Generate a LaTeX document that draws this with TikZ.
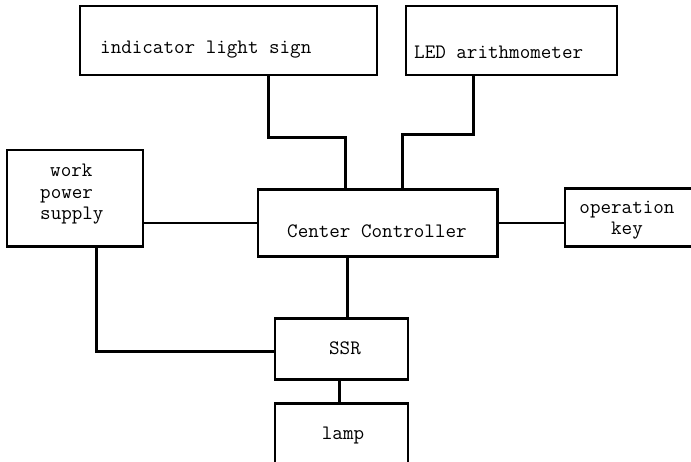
\documentclass[tikz,border=0pt]{standalone}
\usepackage{tikz}
\usetikzlibrary{calc}
\usetikzlibrary{positioning}

\tikzset{
    box/.style={draw=black, line width=1.4pt, rectangle, inner sep=0pt},
    lbl/.style={inner sep=0pt, text=black, font=\ttfamily\fontsize{20.5}{21.5}\selectfont},
    wire/.style={draw=black, line width=3pt},
    thinwire/.style={draw=black, line width=1.2pt}
}

\begin{document}
\begin{tikzpicture}[x=1pt, y=1pt]
    \clip (0,0) rectangle (691,462);
    \fill[white] (0,0) rectangle (691,462);

    % Boxes
    \node[box, minimum width=297, minimum height=69] (ind) at (228.5,421.5) {};
    \node[box, minimum width=211, minimum height=69] (led) at (511.5,421.5) {};
    \node[box, minimum width=136, minimum height=96] (pwr) at (75,264) {};
    \node[box, minimum width=239, minimum height=66] (ctrl) at (377.5,239) {};
    \node[box, minimum width=160, minimum height=57] (key) at (645,244.5) {};
    \node[box, minimum width=133, minimum height=60] (ssr) at (341.5,113) {};
    \node[box, minimum width=133, minimum height=86] (lamp) at (341.5,15) {};

    % Heavy edges
    \draw[wire] (ctrl.north west) -- (ctrl.north east) -- (ctrl.south east) -- (ctrl.south west);
    \draw[wire] (ssr.north west) -- (ssr.north east);
    \draw[wire] (ssr.south west) -- (ssr.south east);
    \draw[wire] (key.north west) -- (key.north east);
    \draw[wire] (key.south west) -- (key.south east);
    \draw[wire] (lamp.north west) -- (lamp.north east);
    \draw[line width=2pt] (pwr.south west) -- (pwr.south east);

    % Texts
    \node[lbl, anchor=base west] (indtxt) at (100,408) {indicator light sign};
    \node[lbl, anchor=base west] (ledtxt) at (414,403) {LED arithmometer};
    \node[lbl, anchor=base west] (ctrltxt) at (287,224) {Center Controller};
    \node[lbl, anchor=base west, align=left] (pwrtxt) at (40,242)
        {\hspace*{10pt}work\\power\\supply};
    \node[lbl, anchor=base, align=center] (keytxt) at (627,227) {operation\\key};
    \node[lbl, anchor=base] (ssrtxt) at (345,107) {SSR};
    \node[lbl, anchor=base] (lamptxt) at (343,22) {lamp};

    % Edges
    \draw[wire] ([xshift=39.5]ind.south) -- ++(0,-62) -| ([xshift=-32.5]ctrl.north);
    \draw[wire] ([xshift=-38.5]led.south) -- ++(0,-59) -| ([xshift=24.5]ctrl.north);
    \draw[thinwire] (ctrl.west) -- (ctrl.west -| pwr.east);
    \draw[thinwire] (ctrl.east) -- (ctrl.east -| key.west);
    \draw[wire] ([xshift=-30.5]ctrl.south) -- ([xshift=-30.5]ctrl.south |- ssr.north);
    \draw[wire] ([xshift=21]pwr.south) |- ([yshift=-3]ssr.west);
    \draw[wire] ([xshift=-2.5]ssr.south) -- ([xshift=-2.5]lamp.north);
\end{tikzpicture}
\end{document}
